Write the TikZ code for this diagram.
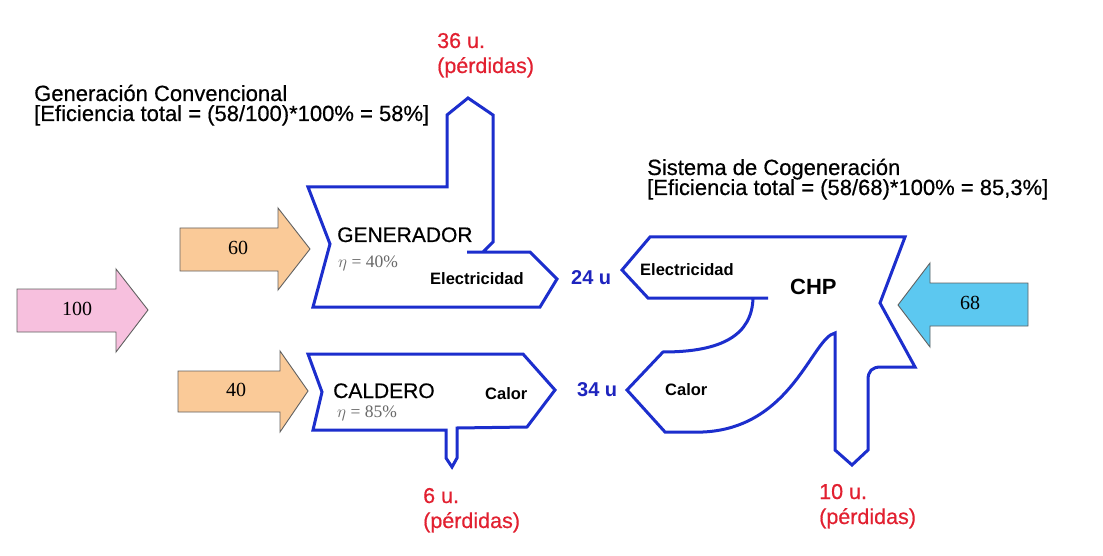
\documentclass[tikz,border=0pt]{standalone}
\usepackage{fontspec}
\setmainfont{Liberation Sans}
\newfontfamily\numfont{Liberation Serif}
\newfontfamily\heavyfont[FakeBold=0.5]{Liberation Sans}
\definecolor{flowblue}{RGB}{28,46,205}
\definecolor{labelblue}{RGB}{30,36,190}
\definecolor{lossred}{RGB}{226,32,48}
\definecolor{etagray}{RGB}{105,105,105}
\definecolor{pinkfill}{RGB}{247,192,222}
\definecolor{orangefill}{RGB}{250,202,152}
\definecolor{cyanfill}{RGB}{92,200,240}
\begin{document}
\begin{tikzpicture}[x=1pt,y=-1pt,
  flow/.style={draw=flowblue, line width=3pt, line join=miter},
  inarrow/.style={draw=black!62, line width=0.9pt, line join=miter},
  txt/.style={anchor=base west, inner sep=0pt},
  heading/.style={txt, font=\heavyfont\fontsize{22}{22}\selectfont},
  loss/.style={txt, text=lossred, font=\heavyfont\fontsize{21.5}{21.5}\selectfont},
  unitlabel/.style={txt, text=labelblue, font=\bfseries\fontsize{20}{20}\selectfont},
  stream/.style={txt, font=\bfseries\fontsize{16.5}{16.5}\selectfont},
  machine/.style={txt, font=\heavyfont\fontsize{21}{21}\selectfont},
  eta/.style={txt, text=etagray, font=\numfont\fontsize{17.5}{17.5}\selectfont},
  qty/.style={inner sep=0pt, font=\numfont\fontsize{20}{20}\selectfont}]

\useasboundingbox (0,0) rectangle (1103,556);
\fill[white] (0,0) rectangle (1103,556);

% ---------- headings ----------
\node[heading] (convA) at (34,101) {Generación Convencional};
\node[heading] (convB) at (34,121) {[Eficiencia total = (58/100)*100\% = 58\%]};
\node[heading] (cogA) at (647,175) {Sistema de Cogeneración};
\node[heading] (cogB) at (647,195) {[Eficiencia total = (58/68)*100\% = 85,3\%]};

% ---------- fuel input arrows ----------
\filldraw[inarrow, fill=pinkfill]
  (17,289) -- (116,289) -- (116,269) -- (148,310) -- (116,352) -- (116,332) -- (17,332) -- cycle;
\node[qty] (q100) at (77,309) {100};

\filldraw[inarrow, fill=orangefill]
  (180,228) -- (278,228) -- (278,208) -- (310,249) -- (278,290) -- (278,271) -- (180,271) -- cycle;
\node[qty] (q60) at (238,248) {60};

\filldraw[inarrow, fill=orangefill]
  (178,371) -- (280,371) -- (280,351) -- (308,391) -- (280,432) -- (280,412) -- (178,412) -- cycle;
\node[qty] (q40) at (236,390) {40};

\filldraw[inarrow, fill=cyanfill]
  (1028,283) -- (930,283) -- (930,263) -- (898,305) -- (930,347) -- (930,326) -- (1028,326) -- cycle;
\node[qty] (q68) at (970,303) {68};

% ---------- generator ----------
\draw[flow]
  (467,252) -- (530,252) -- (557,279) -- (540,307) -- (313,307) -- (330,244)
  -- (308,187) -- (447,187) -- (447,115) -- (468,98) -- (493,115) -- (493,242) -- (483,252);
\node[machine] (gen) at (337,242) {GENERADOR};
\node[eta] (etagen) at (338,267) {$\eta$ = 40\%};
\node[stream] (genel) at (430,284) {Electricidad};

% ---------- boiler ----------
\draw[flow]
  (308,354) -- (523,354) -- (555,390) -- (527,427) -- (457,428) -- (457,458) -- (452,467)
  -- (446,458) -- (446,430) -- (313,430) -- (322,392) -- cycle;
\node[machine] (boil) at (333,398) {CALDERO};
\node[eta] (etaboil) at (337,417) {$\eta$ = 85\%};
\node[stream] (boilheat) at (485,399) {Calor};

% ---------- CHP unit ----------
\draw[flow]
  (768,298) -- (648,298) -- (622,270) -- (650,237) -- (905,237) -- (880,303) -- (915,367)
  -- (881,367) .. controls (872,367) and (868,371) .. (868,380) -- (868,450) -- (852,465)
  -- (835,450) -- (835,333)
  .. controls (812,338) and (792,428) .. (703,432) -- (665,432) -- (627,390) -- (663,352)
  .. controls (722,352) and (752,335) .. (753,298);
\node[machine, font=\bfseries\fontsize{22}{22}\selectfont] (chp) at (790,294) {CHP};
\node[stream] (chpel) at (640,275) {Electricidad};
\node[stream] (chpheat) at (665,395) {Calor};

% ---------- flows between the units ----------
\node[unitlabel] (el24) at (571,284) {24 u};
\node[unitlabel] (heat34) at (577,396) {34 u};

% ---------- losses ----------
\node[loss] (l36a) at (437,48) {36 u.};
\node[loss] (l36b) at (437,73) {(pérdidas)};
\node[loss] (l6a) at (423,503) {6 u.};
\node[loss] (l6b) at (423,528) {(pérdidas)};
\node[loss] (l10a) at (819,499) {10 u.};
\node[loss] (l10b) at (819,524) {(pérdidas)};

\end{tikzpicture}
\end{document}
